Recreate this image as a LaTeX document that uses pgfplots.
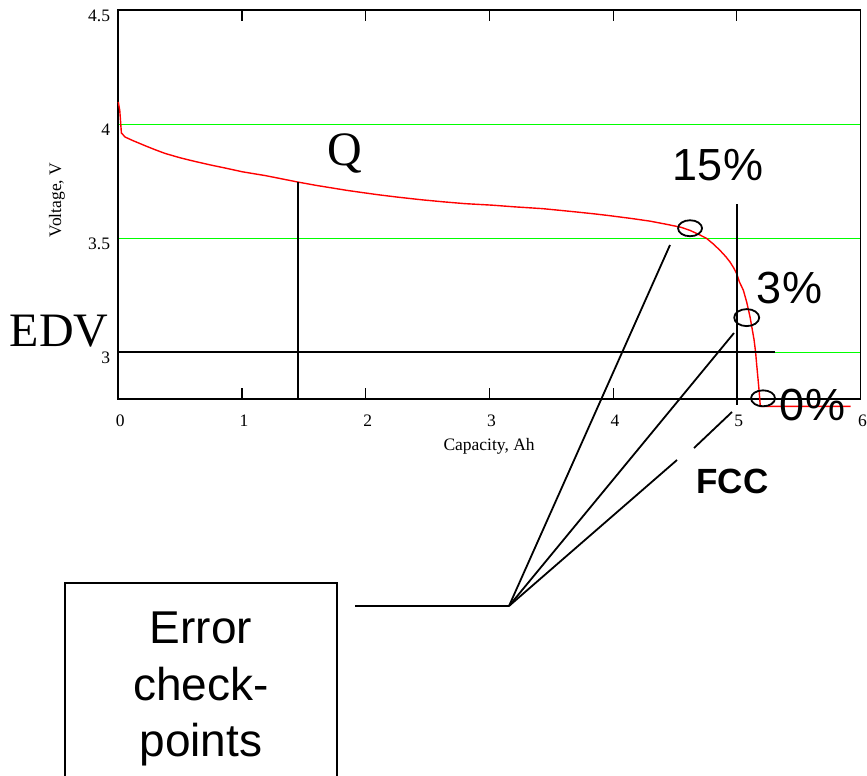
\documentclass[border=0pt]{standalone}
\usepackage{fontspec}
\setmainfont{Liberation Serif}
\newfontfamily\arial{Liberation Sans}
\usepackage{pgfplots}
\pgfplotsset{compat=1.18}
\usepackage{pgfplotstable}

% Discharge curve: capacity (Ah) vs. cell voltage (V)
\pgfplotstableread{
cap    volt
0.000  4.098
0.012  4.060
0.025  3.962
0.055  3.944
0.120  3.928
0.217  3.906
0.300  3.888
0.379  3.872
0.500  3.853
0.620  3.837
0.750  3.821
0.865  3.808
1.000  3.792
1.188  3.775
1.300  3.763
1.458  3.746
1.600  3.732
1.725  3.721
1.850  3.710
1.980  3.700
2.100  3.691
2.250  3.681
2.450  3.669
2.625  3.660
2.800  3.652
3.030  3.645
3.200  3.638
3.430  3.630
3.600  3.621
3.710  3.615
3.850  3.607
3.960  3.600
4.160  3.586
4.300  3.575
4.435  3.561
4.550  3.548
4.620  3.535
4.700  3.515
4.757  3.499
4.810  3.475
4.864  3.447
4.910  3.420
4.945  3.396
4.975  3.370
4.999  3.345
5.020  3.310
5.053  3.272
5.080  3.220
5.107  3.155
5.125  3.100
5.140  3.053
5.152  3.000
5.160  2.950
5.172  2.880
5.180  2.833
5.190  2.763
5.920  2.763
}\dischargecurve

\definecolor{gridgreen}{RGB}{0,255,0}
\definecolor{curvered}{RGB}{255,0,0}

\begin{document}
\begin{tikzpicture}
\useasboundingbox (0pt,0pt) rectangle (867pt,-776pt);

\begin{axis}[
  at={(118.3pt,-399pt)}, anchor=south west,
  scale only axis, width=742.2pt, height=388.7pt,
  xmin=0, xmax=6, ymin=2.795, ymax=4.5,
  clip=false,
  xtick={0,1,2,3,4,5,6},
  ytick={3,3.5,4,4.5},
  xtick pos=both, xticklabel pos=lower,
  ytick pos=left,
  tick align=inside, major tick length=11pt,
  xtick style={line width=1.2pt, black},
  ytick style={draw=none},
  ymajorgrids,
  grid style={color=gridgreen, line width=1.3pt},
  axis line style={line width=1.7pt, black},
  /pgf/number format/assume math mode=true,
  tick label style={font=\fontsize{17.5}{20}\selectfont, inner sep=0pt},
  xticklabel style={anchor=base, yshift=-27pt, xshift=2pt},
  yticklabel style={anchor=base east, yshift=-11pt, xshift=-8pt},
  label style={font=\fontsize{17.5}{20}\selectfont},
  xlabel={Capacity, Ah},
  ylabel={Voltage, V},
  x label style={at={(axis description cs:0.4996,-0.121)}, anchor=center},
  y label style={at={(axis description cs:-0.0826,0.512)}, anchor=center},
]
  \addplot[curvered, line width=1.4pt] table[x=cap, y=volt] {\dischargecurve};

  % end-of-discharge voltage level
  \draw[line width=1.8pt] (axis cs:0,3) -- (axis cs:5.309,3);
  % present charge Q and full charge capacity markers
  \draw[line width=1.8pt] (axis cs:1.450,3.747) -- (axis cs:1.450,2.795);
  \draw[line width=1.8pt] (axis cs:5,3.649) -- (axis cs:5,2.768);
  % check-point circles
  \draw[line width=1.8pt] (axis cs:4.622,3.544) ellipse (12pt and 8pt);
  \draw[line width=1.8pt] (axis cs:5.080,3.152) ellipse (12.5pt and 8.5pt);
  \draw[line width=1.8pt] (axis cs:5.212,2.798) ellipse (12pt and 8pt);
\end{axis}

% callout labels
\node[font=\fontsize{48}{52}\selectfont, anchor=base, inner sep=0pt] at (344.5pt,-165pt) {Q};
\node[font=\fontsize{48}{52}\selectfont, anchor=base, inner sep=0pt] at (59pt,-346.7pt) {EDV};
\node[font=\arial\fontsize{45}{50}\selectfont, anchor=base, inner sep=0pt] at (718pt,-180pt) {15\%};
\node[font=\arial\fontsize{45}{50}\selectfont, anchor=base, inner sep=0pt] at (789.5pt,-303pt) {3\%};
\node[font=\arial\fontsize{45}{50}\selectfont, anchor=base, inner sep=0pt] at (812.5pt,-420pt) {0\%};
\node[font=\arial\bfseries\fontsize{35}{40}\selectfont, anchor=base, inner sep=0pt] at (732.5pt,-493pt) {FCC};

% leader lines to the error check-points
\draw[line width=1.8pt] (355pt,-606pt) -- (509pt,-606pt);
\draw[line width=1.8pt] (509pt,-606pt) -- (670pt,-245pt);
\draw[line width=1.8pt] (509pt,-606pt) -- (734pt,-333pt);
\draw[line width=1.8pt] (509pt,-606pt) -- (677pt,-460pt);
\draw[line width=1.8pt] (694pt,-448pt) -- (732pt,-412pt);

% caption box
\draw[line width=1.5pt] (65pt,-583pt) rectangle (337pt,-790pt);
\node[font=\arial\fontsize{46}{50}\selectfont, anchor=base, inner sep=0pt] at (201pt,-643pt) {Error};
\node[font=\arial\fontsize{46}{50}\selectfont, anchor=base, inner sep=0pt] at (201pt,-700pt) {check-};
\node[font=\arial\fontsize{46}{50}\selectfont, anchor=base, inner sep=0pt] at (201pt,-756pt) {points};
\end{tikzpicture}
\end{document}
